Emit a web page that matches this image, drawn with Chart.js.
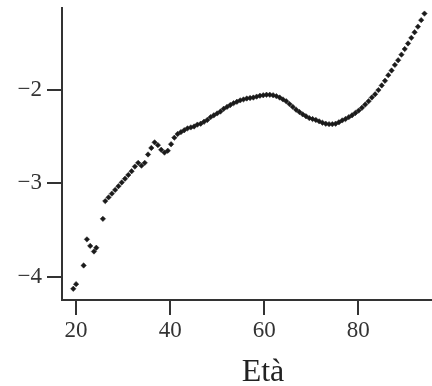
<!DOCTYPE html>
<html>
<head>
<meta charset="utf-8">
<script src="https://cdn.jsdelivr.net/npm/chart.js@4.4.0/dist/chart.umd.min.js"></script>
<style>
html,body{margin:0;padding:0;background:#fff;}
#wrap{width:432px;height:386px;position:relative;}
</style>
</head>
<body>
<div id="wrap"><canvas id="c"></canvas></div>
<script>
const ages = [19.4, 20.0, 21.6, 22.3, 23.0, 23.8, 24.3, 25.7,
  26.2, 26.9, 27.6, 28.3, 29.0, 29.7, 30.4, 31.1, 31.8, 32.5, 33.2, 33.9, 34.6, 35.3, 36.0, 36.7, 37.4, 38.1, 38.8, 39.5,
  40.2, 40.9, 41.6, 42.3, 43.0, 43.7, 44.4, 45.1, 45.8, 46.5, 47.2, 47.9, 48.6, 49.3, 50.0, 50.7, 51.4, 52.1, 52.8, 53.5,
  54.2, 54.9, 55.6, 56.3, 57.0, 57.7, 58.4, 59.1, 59.8, 60.5, 61.2, 61.9, 62.6, 63.3, 64.0, 64.7, 65.4, 66.1, 66.8, 67.5,
  68.2, 68.9, 69.6, 70.3, 71.0, 71.7, 72.4, 73.1, 73.8, 74.5, 75.2, 75.9, 76.6, 77.3, 78.0, 78.7, 79.4, 80.1, 80.8, 81.5,
  82.2, 82.9, 83.6, 84.3, 85.0, 85.7, 86.4, 87.1, 87.8, 88.5, 89.2, 89.9, 90.6, 91.3, 92.0, 92.7, 93.4, 94.1];
const values = [-4.13, -4.08, -3.88, -3.60, -3.67, -3.73, -3.69, -3.38,
  -3.19, -3.15, -3.11, -3.07, -3.03, -2.99, -2.95, -2.91, -2.87, -2.82, -2.78, -2.81, -2.78, -2.69, -2.62, -2.56, -2.59, -2.64, -2.67, -2.65,
  -2.58, -2.51, -2.47, -2.45, -2.43, -2.41, -2.40, -2.39, -2.37, -2.36, -2.34, -2.32, -2.29, -2.27, -2.25, -2.23, -2.20, -2.18, -2.16, -2.14,
  -2.125, -2.11, -2.10, -2.09, -2.085, -2.08, -2.07, -2.06, -2.055, -2.05, -2.05, -2.055, -2.065, -2.08, -2.10, -2.12, -2.15, -2.18, -2.21, -2.235,
  -2.26, -2.28, -2.30, -2.31, -2.32, -2.335, -2.35, -2.36, -2.365, -2.365, -2.36, -2.345, -2.325, -2.31, -2.29, -2.27, -2.245, -2.22, -2.19, -2.155,
  -2.12, -2.08, -2.045, -2.00, -1.95, -1.90, -1.84, -1.79, -1.73, -1.68, -1.62, -1.56, -1.50, -1.44, -1.38, -1.32, -1.25, -1.18];
const xTicks = [20, 40, 60, 80];
const yTicks = [-4, -3, -2];
const xTitle = 'Età';

const points = ages.map((a, i) => ({x: a, y: values[i]}));
const axisColor = '#333';
const tickFont = {family: '"Liberation Serif", "DejaVu Serif", serif', size: 23};

function zeroPad(s) { s.paddingTop = 0; s.paddingBottom = 0; s.paddingLeft = 0; s.paddingRight = 0; }

const titlePlugin = {
  id: 'xTitle',
  afterDraw(chart) {
    const ctx = chart.ctx;
    const ca = chart.chartArea;
    ctx.save();
    ctx.fillStyle = '#222';
    ctx.font = '32px "Liberation Serif", "DejaVu Serif", serif';
    ctx.textAlign = 'center';
    ctx.textBaseline = 'alphabetic';
    ctx.fillText(xTitle, (ca.left + ca.right) / 2 + 16, 381);
    ctx.restore();
  }
};

new Chart(document.getElementById('c'), {
  type: 'scatter',
  data: {
    datasets: [{
      data: points,
      pointStyle: 'rectRot',
      pointRadius: 2.7,
      pointBackgroundColor: '#1a1a1a',
      pointBorderColor: '#1a1a1a',
      pointBorderWidth: 0.5
    }]
  },
  options: {
    responsive: true,
    maintainAspectRatio: false,
    animation: false,
    layout: {autoPadding: false, padding: {top: 8, right: 0, left: 0, bottom: 0}},
    plugins: {legend: {display: false}, tooltip: {enabled: false}},
    scales: {
      x: {
        type: 'linear',
        min: 17,
        max: 95.7,
        afterBuildTicks: s => { s.ticks = xTicks.map(v => ({value: v})); },
        afterFit: s => { s.height = 86; zeroPad(s); },
        grid: {drawOnChartArea: false, drawTicks: true, tickLength: 15, color: axisColor, lineWidth: 2},
        border: {display: true, color: axisColor, width: 2},
        ticks: {font: tickFont, color: '#333', padding: 2, maxRotation: 0, autoSkip: false}
      },
      y: {
        type: 'linear',
        min: -4.25,
        max: -1.12,
        afterBuildTicks: s => { s.ticks = yTicks.map(v => ({value: v})); },
        afterFit: s => { s.width = 62; zeroPad(s); },
        grid: {drawOnChartArea: false, drawTicks: true, tickLength: 15, color: axisColor, lineWidth: 2},
        border: {display: true, color: axisColor, width: 2},
        ticks: {font: tickFont, color: '#333', padding: 5, autoSkip: false,
          callback: v => '\u2212' + Math.abs(v)}
      }
    }
  },
  plugins: [titlePlugin]
});
</script>
</body>
</html>
